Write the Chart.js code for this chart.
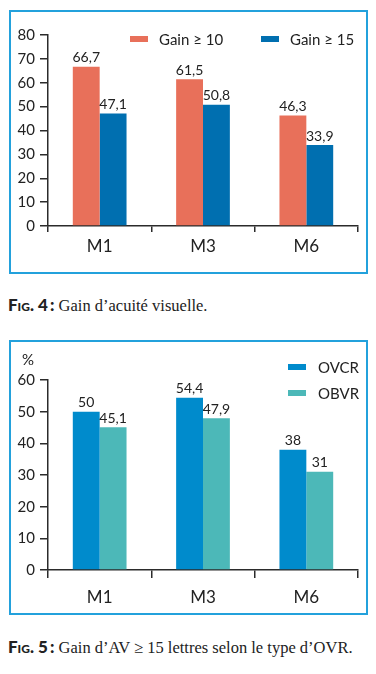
<!DOCTYPE html>
<html>
<head>
<meta charset="utf-8">
<script src="https://cdn.jsdelivr.net/npm/chart.js@4"></script>
<style>
  body { margin: 0; background: #fff; font-family: Lato, "Open Sans", sans-serif; color: #222; }
  #page { position: relative; width: 376px; height: 674px; overflow: hidden; }
  .box { position: absolute; border: 2px solid #23a1dc; box-sizing: border-box; }
  .cv { position: absolute; left: 0; }
  .leg { position: absolute; font-size: 15px; line-height: 18px; color: #222; white-space: nowrap; }
  .leg span.sw { position: absolute; width: 18px; height: 6px; }
  .cap { position: absolute; left: 8px; white-space: nowrap; }
  .cap b { font-family: Lato, sans-serif; font-variant: small-caps; font-weight: 900; font-size: 17px; color: #222; }
  .cap span { font-family: "Liberation Serif", serif; font-size: 16.5px; color: #222; }
</style>
</head>
<body>
<div id="page">
  <div class="box" style="left:9px;top:10px;width:359px;height:264px"></div>
  <div class="cv" style="top:0;width:376px;height:280px"><canvas id="chart1"></canvas></div>
  <div id="legend1"></div>
  <div class="cap" style="top:294px"><b>Fig. 4&#8201;:</b><span> Gain d’acuité visuelle.</span></div>

  <div class="box" style="left:9px;top:340px;width:359px;height:275px"></div>
  <div class="cv" style="top:330px;width:376px;height:290px"><canvas id="chart2"></canvas></div>
  <div class="leg" style="left:22px;top:350px">%</div>
  <div id="legend2"></div>
  <div class="cap" style="top:636px"><b>Fig. 5&#8201;:</b><span> Gain d’AV ≥ 15 lettres selon le type d’OVR.</span></div>
</div>
<script>
// 데이터
const months = ['M1', 'M3', 'M6'];

const gain10 = [66.7, 61.5, 46.3];
const gain15 = [47.1, 50.8, 33.9];

const ovcr = [50, 54.4, 38];
const obvr = [45.1, 47.9, 31];

const ticks1 = [0, 10, 20, 30, 40, 50, 60, 70, 80];
const ticks2 = [0, 10, 20, 30, 40, 50, 60];

const axisColor = '#2b2b2b';

// 막대 위에 값 표시 (소수점은 쉼표)
const valueLabels = {
    id: 'valueLabels',
    afterDatasetsDraw(chart) {
        const ctx = chart.ctx;
        ctx.save();
        ctx.font = '14px Lato, sans-serif';
        ctx.fillStyle = '#222';
        ctx.textAlign = 'center';
        ctx.textBaseline = 'bottom';
        chart.data.datasets.forEach((ds, i) => {
            chart.getDatasetMeta(i).data.forEach((bar, j) => {
                ctx.fillText(String(ds.data[j]).replace('.', ','), bar.x, bar.y - 2);
            });
        });
        ctx.restore();
    }
};

function makeChart(id, datasets, tickList, area, xTick, xPad) {
    const ctx = document.getElementById(id);
    return new Chart(ctx, {
        type: 'bar',
        data: { labels: months, datasets: datasets },
        options: {
            responsive: true,
            maintainAspectRatio: false,
            animation: false,
            layout: { padding: { left: 0, right: area.right, top: area.top, bottom: 0 } },
            plugins: { legend: { display: false }, tooltip: { enabled: false } },
            datasets: { bar: { categoryPercentage: 0.52, barPercentage: 1.0 } },
            scales: {
                x: {
                    grid: { drawOnChartArea: false, color: axisColor, lineWidth: 1.5, tickLength: xTick, offset: true },
                    border: { color: axisColor, width: 1.5 },
                    ticks: { color: '#222', font: { family: 'Lato, sans-serif', size: 17 }, padding: xPad },
                    afterFit(scale) { scale.height = area.xh; }
                },
                y: {
                    min: tickList[0],
                    max: tickList[tickList.length - 1],
                    afterBuildTicks(scale) { scale.ticks = tickList.map(v => ({ value: v })); },
                    grid: { drawOnChartArea: false, color: axisColor, lineWidth: 1.5, tickLength: 8 },
                    border: { color: axisColor, width: 1.5 },
                    ticks: { color: '#222', font: { family: 'Lato, sans-serif', size: 15 }, padding: 5 },
                    afterFit(scale) { scale.width = 48; }
                }
            }
        },
        plugins: [valueLabels]
    });
}

makeChart('chart1', [
    { label: 'Gain ≥ 10', data: gain10, backgroundColor: '#e8705a' },
    { label: 'Gain ≥ 15', data: gain15, backgroundColor: '#006fb0' }
], ticks1, { right: 18, top: 35, xh: 54 }, 6, 4);

makeChart('chart2', [
    { label: 'OVCR', data: ovcr, backgroundColor: '#008bcc' },
    { label: 'OBVR', data: obvr, backgroundColor: '#4cb8b8' }
], ticks2, { right: 18, top: 50, xh: 50 }, 8, 9);

// HTML 범례
function buildLegend(elId, items) {
    const el = document.getElementById(elId);
    items.forEach(it => {
        const d = document.createElement('div');
        d.className = 'leg';
        d.style.left = it.x + 'px';
        d.style.top = it.y + 'px';
        d.style.paddingLeft = it.gap + 'px';
        d.textContent = it.label;
        const sw = document.createElement('span');
        sw.className = 'sw';
        sw.style.left = '0px';
        sw.style.top = '6px';
        sw.style.background = it.color;
        d.appendChild(sw);
        el.appendChild(d);
    });
}

buildLegend('legend1', [
    { label: 'Gain ≥ 10', color: '#e8705a', x: 130, y: 30, gap: 29 },
    { label: 'Gain ≥ 15', color: '#006fb0', x: 261, y: 30, gap: 29 }
]);
buildLegend('legend2', [
    { label: 'OVCR', color: '#008bcc', x: 288, y: 358, gap: 30 },
    { label: 'OBVR', color: '#4cb8b8', x: 288, y: 384, gap: 30 }
]);
</script>
</body>
</html>
